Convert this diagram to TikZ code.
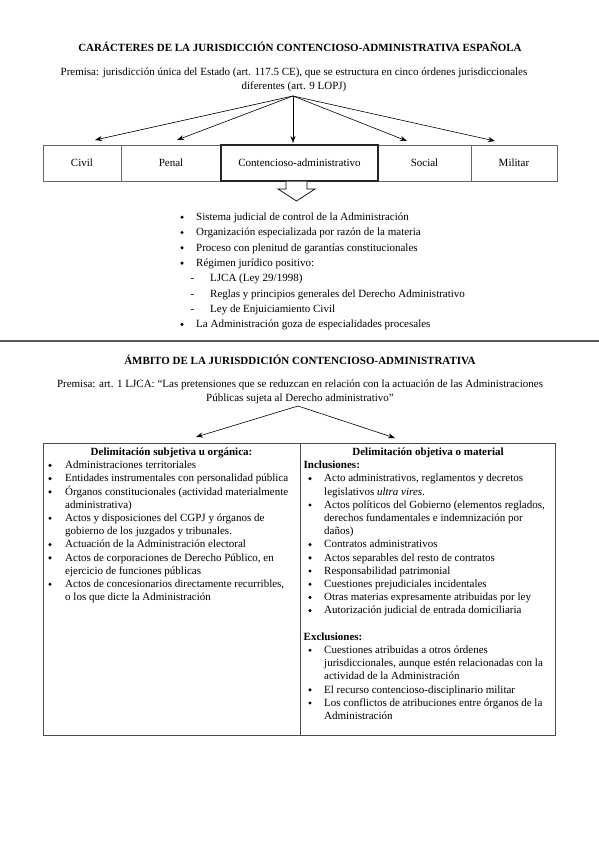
\documentclass[tikz,border=0pt]{standalone}
\usepackage{fontspec}
\setmainfont{Liberation Serif}
\usetikzlibrary{arrows.meta}
\newcommand\Ltxt[4]{\node[txt] (#1) at (#2,#3) {#4};}
\newcommand\Lbul[3]{\node[bul] (#1) at (#2,{#3-3.3}) {};}
\newcommand\Ldash[3]{\node[dsh] (#1) at (#2,#3) {-};}
\begin{document}
\begin{tikzpicture}[x=1pt,y=-1pt,
 txt/.style={inner sep=0pt, anchor=base west, font=\fontsize{11}{13.2}\selectfont},
 ctxt/.style={inner sep=0pt, anchor=base, font=\fontsize{11}{13.2}\selectfont},
 btxt/.style={inner sep=0pt, anchor=base, font=\fontsize{11}{13.2}\selectfont\bfseries},
 bhead/.style={inner sep=0pt, anchor=base west, font=\fontsize{11}{13.2}\selectfont\bfseries},
 bul/.style={circle, fill=black, inner sep=0pt, minimum size=3.4pt},
 dsh/.style={inner sep=0pt, anchor=base, font=\fontsize{11}{13.2}\selectfont},
 ordbox/.style={draw=black!60, line width=0.8pt, minimum height=36pt, inner sep=0pt, font=\fontsize{11}{13.2}\selectfont},
 arr/.style={-{Stealth[length=7pt,width=5pt]}, line width=0.6pt},
 tbl/.style={draw=black!70, line width=1pt}]

\useasboundingbox (0,0) rectangle (599,848);

% ---------- Section 1 ----------
\node[btxt] (title1) at (300,51.6) {CARÁCTERES DE LA JURISDICCIÓN CONTENCIOSO-ADMINISTRATIVA ESPAÑOLA};
\node[ctxt] (prem1a) at (294,75.5) {Premisa: jurisdicción única del Estado (art. 117.5 CE), que se estructura en cinco órdenes jurisdiccionales};
\node[ctxt] (prem1b) at (294,89.5) {diferentes (art. 9 LOPJ)};

\node[ordbox, minimum width=78pt]  (civil)  at (82,163)    {Civil};
\node[ordbox, minimum width=100pt] (penal)  at (171,163)   {Penal};
\node[ordbox, minimum width=93pt]  (social) at (424.5,163) {Social};
\node[ordbox, minimum width=86pt]  (militar) at (514,163)  {Militar};
\node[ordbox, minimum width=157pt, draw=black!85, line width=1.6pt] (conten) at (299.5,163) {Contencioso-administrativo};

\coordinate (o1) at (293,96);
\coordinate (t1) at (95,140);
\coordinate (t2) at (177,140);
\coordinate (t3) at (293,143);
\coordinate (t4) at (407,141);
\coordinate (t5) at (495,141);
\foreach \t in {t1,t2,t3,t4,t5} \draw[arr] (o1) -- (\t);

% hollow arrow
\draw[line width=0.7pt, fill=white] (286,181.5) -- (286,189) -- (278,189) -- (296.5,201) -- (315,189) -- (307,189) -- (307,181.5);

% bullet list
\Lbul{b1}{182}{220.5}  \Ltxt{i1}{196}{220.5}{Sistema judicial de control de la Administración}
\Lbul{b2}{182}{235.8}  \Ltxt{i2}{196}{235.8}{Organización especializada por razón de la materia}
\Lbul{b3}{182}{251.1}  \Ltxt{i3}{196}{251.1}{Proceso con plenitud de garantías constitucionales}
\Lbul{b4}{182}{266.4}  \Ltxt{i4}{196}{266.4}{Régimen jurídico positivo:}
\Ldash{d1}{192.5}{281.7} \Ltxt{s1}{210}{281.7}{LJCA (Ley 29/1998)}
\Ldash{d2}{192.5}{297.0} \Ltxt{s2}{210}{297.0}{Reglas y principios generales del Derecho Administrativo}
\Ldash{d3}{192.5}{312.3} \Ltxt{s3}{210}{312.3}{Ley de Enjuiciamiento Civil}
\Lbul{b5}{182}{327.6}  \Ltxt{i5}{196}{327.6}{La Administración goza de especialidades procesales}

% separator
\draw[draw=black!65, line width=1.2pt] (0,341) -- (599,341);

% ---------- Section 2 ----------
\node[btxt] (title2) at (300,364.6) {ÁMBITO DE LA JURISDDICIÓN CONTENCIOSO-ADMINISTRATIVA};
\node[ctxt] (prem2a) at (300,387.5) {Premisa: art. 1 LJCA: “Las pretensiones que se reduzcan en relación con la actuación de las Administraciones};
\node[ctxt] (prem2b) at (300,401.5) {Públicas sujeta al Derecho administrativo”};

\coordinate (o2) at (298,406);
\coordinate (tl) at (196,437);
\coordinate (tr) at (395,438);
\draw[arr] (o2) -- (tl);
\draw[arr] (o2) -- (tr);

\draw[tbl] (43,443) rectangle (555,735);
\draw[tbl] (300,443) -- (300,735);

% left column
\node[btxt] (hl) at (171.5,455.5) {Delimitación subjetiva u orgánica:};
\Lbul{lb1}{50}{468.7}  \Ltxt{l1}{65}{468.7}{Administraciones territoriales}
\Lbul{lb2}{50}{481.9}  \Ltxt{l2}{65}{481.9}{Entidades instrumentales con personalidad pública}
\Lbul{lb3}{50}{495.1}  \Ltxt{l3}{65}{495.1}{Órganos constitucionales (actividad materialmente}
                       \Ltxt{l4}{65}{508.3}{administrativa)}
\Lbul{lb5}{50}{521.5}  \Ltxt{l5}{65}{521.5}{Actos y disposiciones del CGPJ y órganos de}
                       \Ltxt{l6}{65}{534.7}{gobierno de los juzgados y tribunales.}
\Lbul{lb7}{50}{547.9}  \Ltxt{l7}{65}{547.9}{Actuación de la Administración electoral}
\Lbul{lb8}{50}{561.1}  \Ltxt{l8}{65}{561.1}{Actos de corporaciones de Derecho Público, en}
                       \Ltxt{l9}{65}{574.3}{ejercicio de funciones públicas}
\Lbul{lb10}{50}{587.5} \Ltxt{l10}{65}{587.5}{Actos de concesionarios directamente recurribles,}
                       \Ltxt{l11}{65}{600.7}{o los que dicte la Administración}

% right column
\node[btxt] (hr) at (428,455.5) {Delimitación objetiva o material};
\node[bhead] (incl) at (303.5,468.7) {Inclusiones:};
\Lbul{rb2}{310}{481.9}  \Ltxt{r2}{324}{481.9}{Acto administrativos, reglamentos y decretos}
                        \Ltxt{r3}{324}{495.1}{legislativos \textit{ultra vires}.}
\Lbul{rb4}{310}{508.3}  \Ltxt{r4}{324}{508.3}{Actos políticos del Gobierno (elementos reglados,}
                        \Ltxt{r5}{324}{521.5}{derechos fundamentales e indemnización por}
                        \Ltxt{r6}{324}{534.7}{daños)}
\Lbul{rb7}{310}{547.9}  \Ltxt{r7}{324}{547.9}{Contratos administrativos}
\Lbul{rb8}{310}{561.1}  \Ltxt{r8}{324}{561.1}{Actos separables del resto de contratos}
\Lbul{rb9}{310}{574.3}  \Ltxt{r9}{324}{574.3}{Responsabilidad patrimonial}
\Lbul{rb10}{310}{587.5} \Ltxt{r10}{324}{587.5}{Cuestiones prejudiciales incidentales}
\Lbul{rb11}{310}{600.7} \Ltxt{r11}{324}{600.7}{Otras materias expresamente atribuidas por ley}
\Lbul{rb12}{310}{613.9} \Ltxt{r12}{324}{613.9}{Autorización judicial de entrada domiciliaria}
\node[bhead] (excl) at (303.5,640.3) {Exclusiones:};
\Lbul{rb15}{310}{653.5} \Ltxt{r15}{324}{653.5}{Cuestiones atribuidas a otros órdenes}
                        \Ltxt{r16}{324}{666.7}{jurisdiccionales, aunque estén relacionadas con la}
                        \Ltxt{r17}{324}{679.9}{actividad de la Administración}
\Lbul{rb18}{310}{693.1} \Ltxt{r18}{324}{693.1}{El recurso contencioso-disciplinario militar}
\Lbul{rb19}{310}{706.3} \Ltxt{r19}{324}{706.3}{Los conflictos de atribuciones entre órganos de la}
                        \Ltxt{r20}{324}{719.5}{Administración}
\end{tikzpicture}
\end{document}
